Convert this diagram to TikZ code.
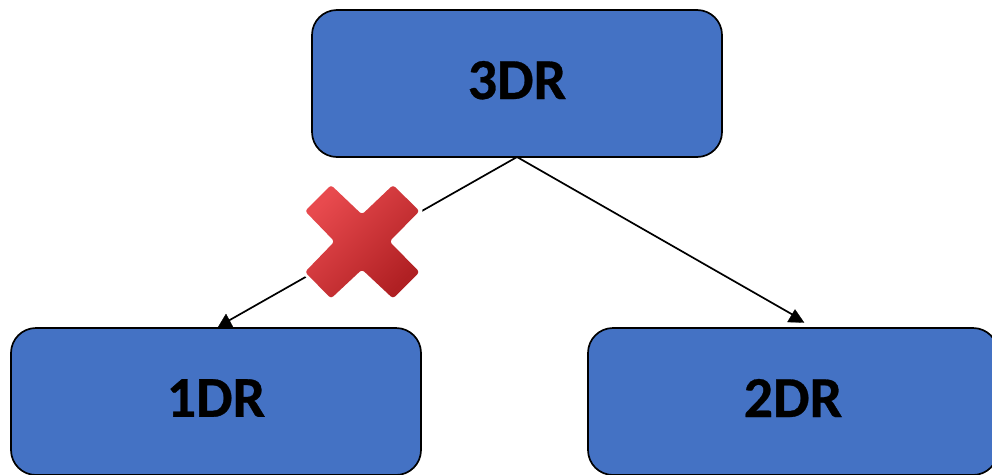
\documentclass[tikz,border=0pt]{standalone}
\usepackage{fontspec}
\setmainfont[BoldFeatures={FakeBold=0.5}]{Carlito}
\begin{document}
\begin{tikzpicture}[x=1pt,y=-1pt,
  drbox/.style={draw=black,line width=1.7pt,fill=boxblue,rounded corners=25pt,
    minimum width=410pt,minimum height=147pt,inner sep=0pt,text depth=7pt,
    font=\fontsize{58}{62}\selectfont\bfseries,text=black},
  link/.style={draw=black,line width=1.7pt},
  tiphead/.style={fill=black,draw=black,line width=0.3pt,line join=round}]
\definecolor{boxblue}{HTML}{4472C4}
\definecolor{xlight}{HTML}{E84A4E}
\definecolor{xdark}{HTML}{B02023}
\useasboundingbox (0,0) rectangle (992,474);
\clip (0,0) rectangle (992,474);
\fill[white] (0,0) rectangle (992,474);
\coordinate (topstem) at (517,157);
\coordinate (leftend) at (221,325);
\coordinate (rightend) at (795,316);
\draw[link] (topstem) -- (leftend);
\draw[link] (topstem) -- (rightend);
\path[tiphead] (226,314) -- (234,329) -- (217,329) -- cycle;
\path[tiphead] (795,309.5) -- (804,322.5) -- (787.5,322) -- cycle;
\node[drbox] (three) at (517,83.5) {3DR};
\node[drbox] (one) at (216,401.5) {1DR};
\node[drbox] (two) at (793,401.5) {2DR};
% white halo that interrupts the struck-out connector
\path[draw=white,fill=white,line width=7pt,line join=round]
  (331,186) -- (362,216) -- (393,186) -- (419,211) -- (388,241.5) -- (419,272)
  -- (393,298) -- (362,268) -- (331,298) -- (306,272) -- (336,241.5) -- (306,211) -- cycle;
\shade[left color=xlight,right color=xdark,shading angle=45,rounded corners=3pt]
  (331,185) -- (362,214.5) -- (393,185) -- (419.5,211) -- (389.5,241.5) -- (419.5,272)
  -- (393,298.5) -- (362,269.5) -- (331,298.5) -- (305,272) -- (334.5,241.5) -- (305,211) -- cycle;
\end{tikzpicture}
\end{document}
